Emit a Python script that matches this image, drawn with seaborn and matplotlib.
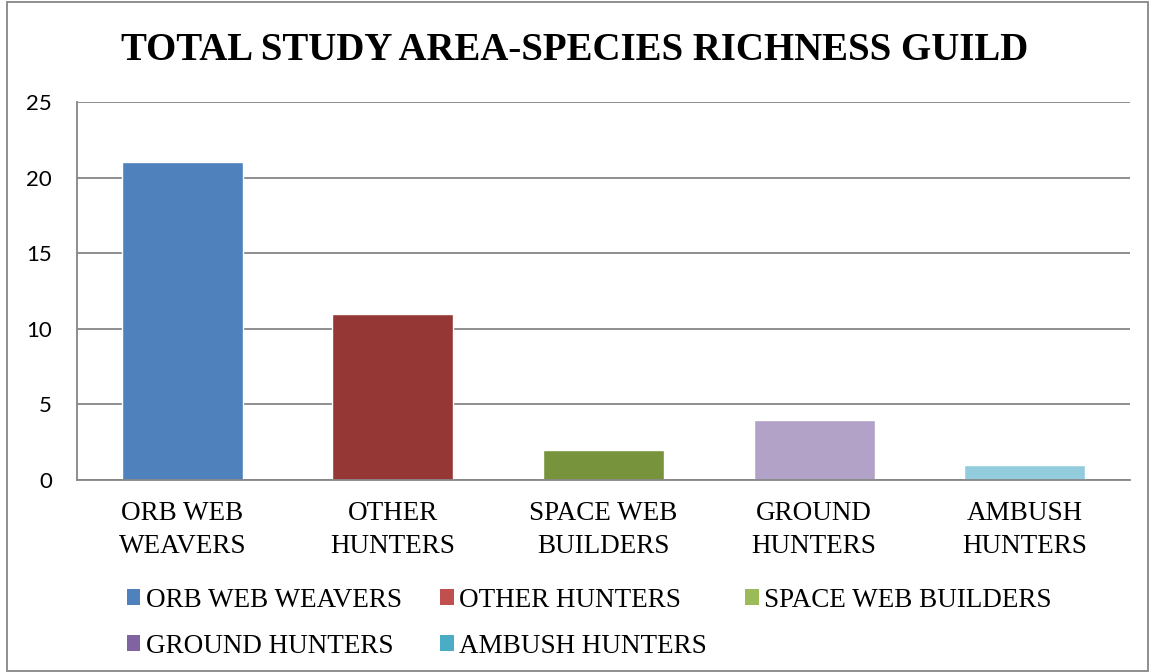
import matplotlib
matplotlib.use("Agg")
import matplotlib.pyplot as plt
from matplotlib.patches import Patch, Rectangle
import seaborn as sns

# Guild data
categories = ["ORB WEB WEAVERS", "OTHER HUNTERS", "SPACE WEB BUILDERS",
              "GROUND HUNTERS", "AMBUSH HUNTERS"]
tick_labels = ["ORB WEB\nWEAVERS", "OTHER\nHUNTERS", "SPACE WEB\nBUILDERS",
               "GROUND\nHUNTERS", "AMBUSH\nHUNTERS"]
values = [21, 11, 2, 4, 1]
y_ticks = [0, 5, 10, 15, 20, 25]

bar_colors = ["#4F81BD", "#953735", "#77933C", "#B3A2C7", "#93CDDD"]
legend_colors = ["#4F81BD", "#C0504D", "#9BBB59", "#8064A2", "#4BACC6"]

sns.set_theme(style="white")
plt.rcParams["text.color"] = "black"
plt.rcParams["xtick.color"] = "black"
plt.rcParams["ytick.color"] = "black"
serif = ["Liberation Serif", "DejaVu Serif"]
sans = ["Lato", "DejaVu Sans"]

W, H = 1150, 672
fig = plt.figure(figsize=(W / 100, H / 100), dpi=100)
fig.patch.set_facecolor("white")

# outer chart frame
fig.add_artist(Rectangle((7 / W, 1 / H), (1148 - 7) / W, (670 - 1) / H,
                         transform=fig.transFigure, fill=False,
                         edgecolor="#868686", linewidth=1.3))

ax = fig.add_axes([77 / W, 1 - 480 / H, (1130 - 77) / W, (480 - 102) / H])
sns.barplot(x=categories, y=values, hue=categories, palette=bar_colors,
            width=0.575, saturation=1, legend=False, ax=ax)

ax.set_xlim(-0.5, len(categories) - 0.5)
ax.set_ylim(0, 25)
ax.set_yticks(y_ticks)
ax.set_yticklabels([str(t) for t in y_ticks], family=sans, fontsize=16,
                   color="black")
ax.set_xticks(range(len(categories)))
ax.set_xticklabels(tick_labels, family=serif, fontsize=19.5,
                   linespacing=1.45, color="black")
ax.set_xlabel("")
ax.set_ylabel("")

ax.yaxis.grid(True, color="#868686", linewidth=1.3)
ax.set_axisbelow(True)
for s in ["top", "right"]:
    ax.spines[s].set_visible(False)
for s in ["left", "bottom"]:
    ax.spines[s].set_color("#868686")
    ax.spines[s].set_linewidth(1.3)
ax.tick_params(axis="both", length=0)
ax.tick_params(axis="y", pad=18)
ax.tick_params(axis="x", pad=15)

fig.text(0.5, 1 - 51 / H, "TOTAL STUDY AREA-SPECIES RICHNESS GUILD",
         ha="center", va="center", family=serif, fontweight="bold",
         fontsize=28, color="black")

# legend filled row by row: three entries on the first line, two on the second
order = [0, 3, 1, 4, 2]
handles = [Patch(facecolor=legend_colors[i], edgecolor="none") for i in order]
labels = [categories[i] for i in order]
fig.legend(handles, labels, ncol=3, loc="upper left",
           bbox_to_anchor=(113 / W, 1 - 574 / H), frameon=False,
           prop={"family": serif, "size": 19.5},
           handlelength=0.5, handleheight=0.5, handletextpad=0.2,
           columnspacing=1.42, labelspacing=0.78, borderpad=0)

fig.savefig("out.png", dpi=100, facecolor="white")
